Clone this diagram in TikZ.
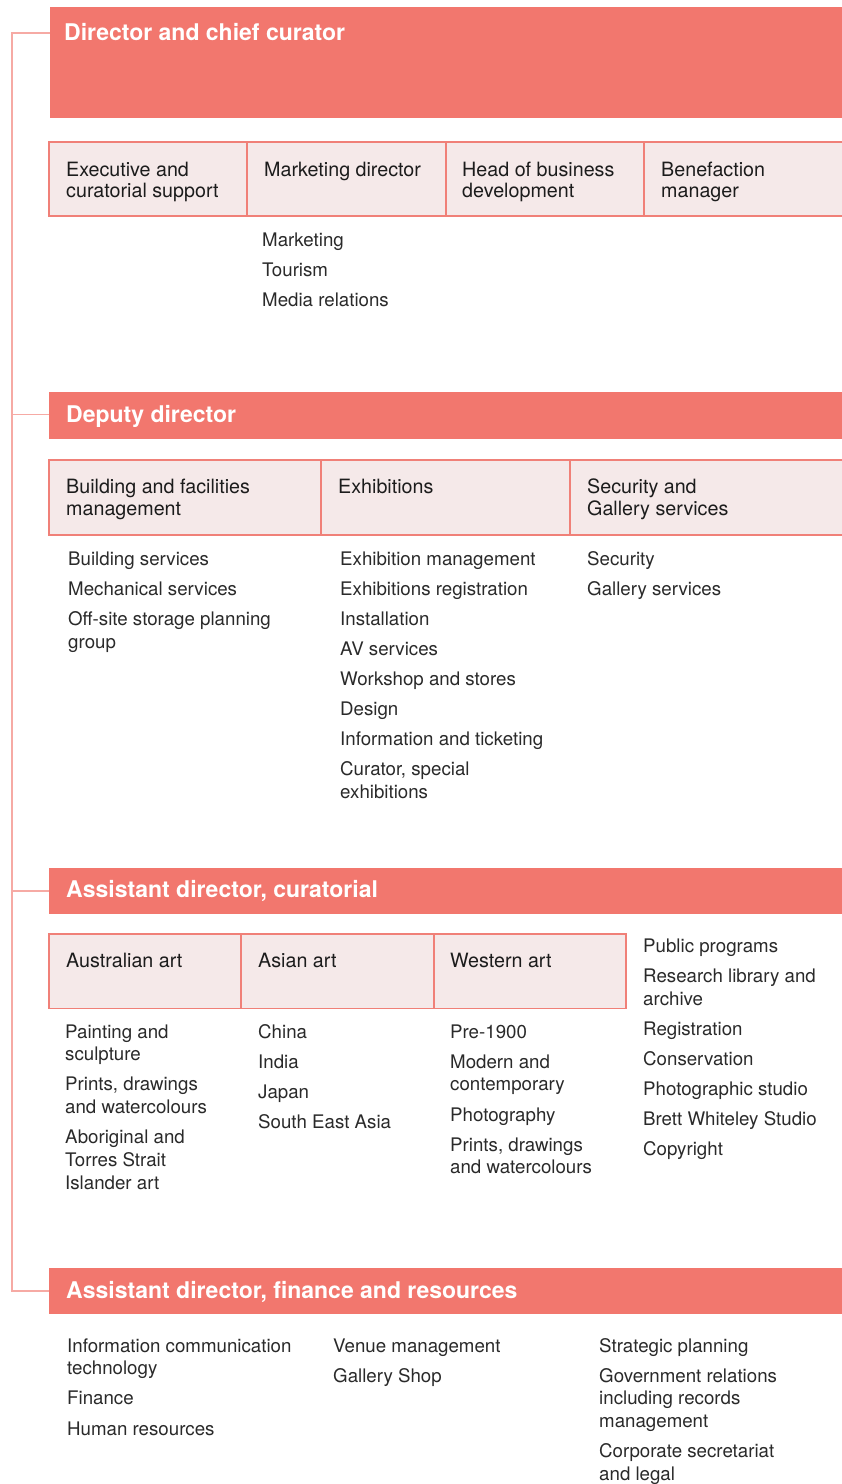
\documentclass[tikz,border=0pt]{standalone}
\usepackage{fontspec}
\setmainfont{TeX Gyre Heros}
\definecolor{hdrc}{HTML}{F2776E}
\definecolor{cellc}{HTML}{F5E9E9}
\definecolor{cellline}{HTML}{F08078}
\definecolor{connc}{HTML}{F6AAA4}
\definecolor{celltext}{HTML}{1C1C1C}
\definecolor{listtext}{HTML}{2A2A2A}
\newcommand\hdrfont{\fontsize{23}{26}\selectfont\bfseries}
\newcommand\cellfont{\fontsize{19.7}{21.7}\selectfont}
\newcommand\listfont{\fontsize{18.7}{22.8}\selectfont}
\newcommand\gap{\\[7.3pt]}
\tikzset{
  hdr/.style={fill=hdrc, draw=none, inner sep=0pt, outer sep=0pt, anchor=north west},
  cell/.style={fill=cellc, draw=cellline, line width=1.1pt, inner sep=0pt, outer sep=0pt, anchor=north west},
  hdrtxt/.style={text=white, font=\hdrfont, anchor=base west, inner sep=0pt},
  celltxt/.style={text=celltext, font=\cellfont, align=left, anchor=base west, inner sep=0pt},
  listtxt/.style={text=listtext, font=\listfont, align=left, anchor=base west, inner sep=0pt},
  conn/.style={draw=connc, line width=1.5pt}
}
% note: for multi-line nodes the base anchor is the baseline of the LAST line
\begin{document}
\begin{tikzpicture}[x=1pt,y=-1pt]
\useasboundingbox (0,0) rectangle (842,1484);
\fill[white] (0,0) rectangle (842,1484);

% ---------- Director ----------
\node[hdr, minimum width=796pt, minimum height=111pt] (h1) at (50,7) {};
\node[hdrtxt] (h1t) at (64,40) {Director and chief curator};

\node[cell, minimum width=198pt, minimum height=74pt] (r1a) at (49,142) {};
\node[cell, minimum width=199pt, minimum height=74pt] (r1b) at (247,142) {};
\node[cell, minimum width=198pt, minimum height=74pt] (r1c) at (446,142) {};
\node[cell, minimum width=202pt, minimum height=74pt] (r1d) at (644,142) {};
\node[celltxt] (t1a) at (66,197.7) {Executive and\\curatorial support};
\node[celltxt] (t1b) at (264,176) {Marketing director};
\node[celltxt] (t1c) at (462,197.7) {Head of business\\development};
\node[celltxt] (t1d) at (661,197.7) {Benefaction\\manager};
\node[listtxt] (l1b) at (262,306.5) {Marketing\gap Tourism\gap Media relations};

% ---------- Deputy ----------
\node[hdr, minimum width=797pt, minimum height=47pt] (h2) at (49,391.5) {};
\node[hdrtxt] (h2t) at (66,422) {Deputy director};

\node[cell, minimum width=272pt, minimum height=75pt] (r2a) at (49,460) {};
\node[cell, minimum width=249pt, minimum height=75pt] (r2b) at (321,460) {};
\node[cell, minimum width=276pt, minimum height=75pt] (r2c) at (570,460) {};
\node[celltxt] (t2a) at (66,515) {Building and facilities\\management};
\node[celltxt] (t2b) at (338,493.3) {Exhibitions};
\node[celltxt] (t2c) at (587,515) {Security and\\Gallery services};
\node[listtxt] (l2a) at (68,648) {Building services\gap Mechanical services\gap Off-site storage planning\\group};
\node[listtxt] (l2b) at (340,798.5) {Exhibition management\gap Exhibitions registration\gap Installation\gap AV services\gap Workshop and stores\gap Design\gap Information and ticketing\gap Curator, special\\exhibitions};
\node[listtxt] (l2c) at (587,595.1) {Security\gap Gallery services};

% ---------- Assistant director, curatorial ----------
\node[hdr, minimum width=797pt, minimum height=46.7pt] (h3) at (49,867.5) {};
\node[hdrtxt] (h3t) at (66,897) {Assistant director, curatorial};

\node[cell, minimum width=192pt, minimum height=74.5pt] (r3a) at (49,934) {};
\node[cell, minimum width=193pt, minimum height=74.5pt] (r3b) at (241,934) {};
\node[cell, minimum width=192pt, minimum height=74.5pt] (r3c) at (434,934) {};
\node[celltxt] (t3a) at (66,967) {Australian art};
\node[celltxt] (t3b) at (258,967) {Asian art};
\node[celltxt] (t3c) at (450,967) {Western art};
\node[listtxt] (l3r) at (643,1155.9) {Public programs\gap Research library and\\archive\gap Registration\gap Conservation\gap Photographic studio\gap Brett Whiteley Studio\gap Copyright};
\node[listtxt] (l3a) at (65,1189.4) {Painting and\\sculpture\gap Prints, drawings\\and watercolours\gap Aboriginal and\\Torres Strait\\Islander art};
\node[listtxt] (l3b) at (258,1128.3) {China\gap India\gap Japan\gap South East Asia};
\node[listtxt] (l3c) at (450,1173.9) {Pre-1900\gap Modern and\\contemporary\gap Photography\gap Prints, drawings\\and watercolours};

% ---------- Assistant director, finance ----------
\node[hdr, minimum width=797pt, minimum height=46.8pt] (h4) at (49,1267.5) {};
\node[hdrtxt] (h4t) at (66,1298) {Assistant director, finance and resources};
\node[listtxt] (l4a) at (67,1435) {Information communication\\technology\gap Finance\gap Human resources};
\node[listtxt] (l4b) at (333,1382.1) {Venue management\gap Gallery Shop};
\node[listtxt] (l4c) at (599,1480.6) {Strategic planning\gap Government relations\\including records\\management\gap Corporate secretariat\\and legal};

% ---------- connector ----------
\coordinate (c1) at (12,33);
\coordinate (c2) at (12,414.5);
\coordinate (c3) at (12,891);
\coordinate (c4) at (12,1291);
\draw[conn] (c1 -| h1.west) -- (c1) -- (c4) -- (c4 -| h4.west);
\draw[conn] (c2) -- (c2 -| h2.west);
\draw[conn] (c3) -- (c3 -| h3.west);
\end{tikzpicture}
\end{document}
